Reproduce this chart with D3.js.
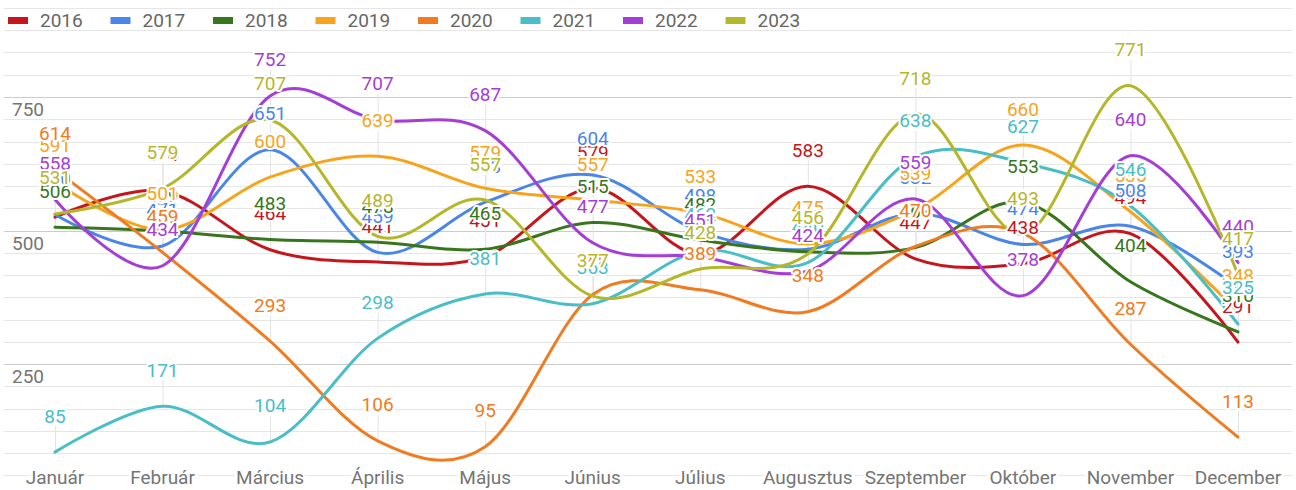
<!DOCTYPE html>
<html>
<head>
<meta charset="utf-8">
<script src="https://cdn.jsdelivr.net/npm/d3@7"></script>
<style>
  body { margin: 0; background: #fff; }
  text { font-family: Roboto, "Noto Sans", sans-serif; }
</style>
</head>
<body>
<svg width="1296" height="490"></svg>
<script>
// monthly values per year
var months = ["Január", "Február", "Március", "Április", "Május", "Június",
  "Július", "Augusztus", "Szeptember", "Október", "November", "December"];
var years = ["2016", "2017", "2018", "2019", "2020", "2021", "2022", "2023"];
var v2016 = [525, 574, 464, 441, 451, 579, 456, 583, 447, 438, 494, 291];
var v2017 = [530, 471, 651, 459, 553, 604, 498, 465, 532, 474, 508, 393];
var v2018 = [506, 499, 483, 478, 465, 515, 482, 460, 468, 553, 404, 310];
var v2019 = [591, 501, 600, 639, 579, 557, 533, 475, 539, 660, 535, 348];
var v2020 = [614, 459, 293, 106, 95, 380, 389, 348, 470, 495, 287, 113];
var v2021 = [85, 171, 104, 298, 381, 363, 462, 440, 638, 627, 546, 325];
var v2022 = [558, 434, 752, 707, 687, 477, 451, 424, 559, 378, 640, 440];
var v2023 = [531, 579, 707, 489, 557, 377, 428, 456, 718, 493, 771, 417];
var yTicks = [250, 500, 750];

var series = [v2016, v2017, v2018, v2019, v2020, v2021, v2022, v2023];
var colors = ["#c5161d", "#4a86e8", "#38761d", "#f7a41c", "#f07b20", "#49bec7", "#a43fd6", "#b5b72b"];

var svg = d3.select("svg");

var x = d3.scalePoint().domain(months).range([55, 1238]);
var y = d3.scaleLinear().domain([0, 1000]).range([497.5, -36.5]);

// gridlines, 6 minor steps per 250
var grid = d3.range(1, 23).map(function (k) { return k * 250 / 6; });
svg.append("g").selectAll("line")
  .data(grid)
  .enter().append("line")
  .attr("x1", 4).attr("x2", 1292)
  .attr("y1", function (d) { return Math.round(y(d)) + 0.5; })
  .attr("y2", function (d) { return Math.round(y(d)) + 0.5; })
  .attr("stroke", function (d, i) { return (i + 1) % 6 == 0 ? "#cccccc" : "#e6e6e6"; })
  .attr("stroke-width", 1);

// y labels sit just under their gridline
svg.append("g").selectAll("text")
  .data(yTicks)
  .enter().append("text")
  .attr("x", 12)
  .attr("y", function (d) { return y(d) + 19; })
  .attr("font-size", "19px")
  .attr("fill", "#757575")
  .text(function (d) { return d; });

// annotation stems
var stems = svg.append("g");
series.forEach(function (s) {
  stems.selectAll(null)
    .data(s)
    .enter().append("line")
    .attr("x1", function (d, i) { return x(months[i]) + 0.5; })
    .attr("x2", function (d, i) { return x(months[i]) + 0.5; })
    .attr("y1", function (d) { return y(d); })
    .attr("y2", function (d) { return y(d) - 26; })
    .attr("stroke", "#e3e3e3");
});

var line = d3.line()
  .x(function (d, i) { return x(months[i]); })
  .y(function (d) { return y(d); })
  .curve(d3.curveCardinal.tension(0));

svg.append("g").selectAll("path")
  .data(series)
  .enter().append("path")
  .attr("d", line)
  .attr("fill", "none")
  .attr("stroke", function (d, i) { return colors[i]; })
  .attr("stroke-width", 3)
  .attr("stroke-linecap", "round");

// data labels with white halo, later years on top
var labels = svg.append("g");
series.forEach(function (s, k) {
  labels.selectAll(null)
    .data(s)
    .enter().append("text")
    .attr("x", function (d, i) { return x(months[i]); })
    .attr("y", function (d) { return y(d) - 29.5; })
    .attr("text-anchor", "middle")
    .attr("font-size", "19px")
    .attr("fill", colors[k])
    .attr("stroke", "#fff")
    .attr("stroke-width", 4)
    .attr("stroke-linejoin", "round")
    .attr("paint-order", "stroke")
    .text(function (d) { return d; });
});

// x axis labels
svg.append("g").selectAll("text")
  .data(months)
  .enter().append("text")
  .attr("x", function (d) { return x(d); })
  .attr("y", 484)
  .attr("text-anchor", "middle")
  .attr("font-size", "19px")
  .attr("fill", "#757575")
  .attr("stroke", "#fff")
  .attr("stroke-width", 6)
  .attr("paint-order", "stroke")
  .text(function (d) { return d; });

// legend
var legend = svg.append("g").selectAll("g")
  .data(years)
  .enter().append("g")
  .attr("transform", function (d, i) { return "translate(" + (8 + i * 102.5) + ",0)"; });

legend.append("rect")
  .attr("x", 0).attr("y", 17)
  .attr("width", 20).attr("height", 7)
  .attr("fill", function (d, i) { return colors[i]; });

legend.append("text")
  .attr("x", 32)
  .attr("y", 27)
  .attr("font-size", "19px")
  .attr("fill", "#666")
  .text(function (d) { return d; });
</script>
</body>
</html>
